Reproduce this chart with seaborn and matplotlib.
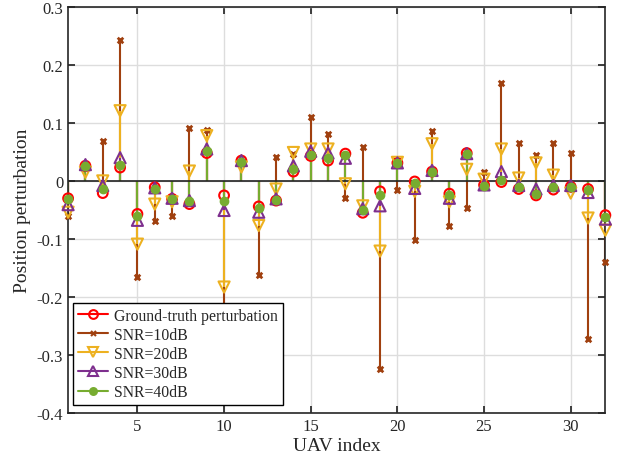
import numpy as np
import matplotlib
matplotlib.use("Agg")
import matplotlib.pyplot as plt
import seaborn as sns
from matplotlib.lines import Line2D
from matplotlib.legend_handler import HandlerLine2D

# Data (UAV 1..32)
uav = np.arange(1, 33)
ground_truth = [-0.030, 0.026, -0.021, 0.023, -0.057, -0.011, -0.031, -0.040,
                0.048, -0.025, 0.035, -0.044, -0.034, 0.016, 0.043, 0.035,
                0.047, -0.055, -0.018, 0.031, -0.001, 0.016, -0.022, 0.048,
                -0.007, -0.002, -0.014, -0.025, -0.015, -0.010, -0.014, -0.059]
snr10 = [-0.060, 0.022, 0.068, 0.243, -0.166, -0.070, -0.061, 0.092,
         0.087, -0.260, 0.030, -0.163, 0.041, 0.046, 0.111, 0.081,
         -0.029, 0.059, -0.325, -0.015, -0.102, 0.086, -0.077, -0.047,
         0.016, 0.169, 0.066, 0.045, 0.066, 0.048, -0.272, -0.139]
snr20 = [-0.054, 0.015, 0.000, 0.121, -0.109, -0.040, -0.036, 0.017,
         0.078, -0.183, 0.024, -0.077, -0.014, 0.049, 0.055, 0.055,
         -0.005, -0.043, -0.121, 0.032, -0.018, 0.064, -0.036, 0.020,
         0.003, 0.055, 0.005, 0.031, 0.010, -0.021, -0.064, -0.085]
snr30 = [-0.041, 0.028, -0.008, 0.040, -0.068, -0.012, -0.030, -0.034,
         0.055, -0.051, 0.035, -0.054, -0.031, 0.026, 0.051, 0.048,
         0.039, -0.048, -0.043, 0.031, -0.013, 0.018, -0.030, 0.047,
         -0.007, 0.016, -0.008, -0.014, -0.008, -0.008, -0.020, -0.066]
snr40 = [-0.031, 0.026, -0.014, 0.028, -0.061, -0.014, -0.032, -0.034,
         0.052, -0.034, 0.033, -0.047, -0.033, 0.021, 0.045, 0.039,
         0.045, -0.051, -0.025, 0.031, -0.004, 0.015, -0.024, 0.047,
         -0.008, 0.002, -0.011, -0.022, -0.011, -0.011, -0.016, -0.063]

labels = ["Ground-truth perturbation", "SNR=10dB", "SNR=20dB", "SNR=30dB", "SNR=40dB"]
series = [ground_truth, snr10, snr20, snr30, snr40]
colors = ["#FF0000", "#A0400F", "#EDB120", "#7E2F8E", "#77AC30"]
markers = ["o", "x", "v", "^", "o"]
msizes = [7, 4, 8, 8, 5.5]
filled = [False, True, False, False, True]


# legend marker sits at the right end of the line, like MATLAB
class RightMarker(HandlerLine2D):
    def get_xdata(self, legend, xdescent, ydescent, width, height, fontsize):
        xdata = np.array([-xdescent, -xdescent + width])
        return xdata, np.array([-xdescent + width - 3])


sns.set_theme(style="ticks")
plt.rcParams["font.family"] = ["Liberation Serif", "DejaVu Serif"]

fig, ax = plt.subplots(figsize=(6.19, 4.64), dpi=100)
fig.subplots_adjust(left=0.110, right=0.978, top=0.983, bottom=0.108)

handles = []
for vals, lab, c, m, ms, f in zip(series, labels, colors, markers, msizes, filled):
    ax.vlines(uav, 0, vals, color=c, lw=1.5, zorder=2)
    sns.scatterplot(x=uav, y=vals, ax=ax, marker=m, s=ms ** 2,
                    facecolor=c if f else "none", edgecolor=c,
                    linewidth=1.5 if m != "x" else 2, color=c, zorder=3,
                    legend=False, clip_on=False)
    handles.append(Line2D([0], [0], color=c, lw=1.5, marker=m, ms=ms * 0.9,
                          mfc=c if f else "none", mec=c, mew=1.5))

ax.axhline(0, color="#222222", lw=1.2, zorder=2.5)

ax.set_xlim(1, 32)
ax.set_ylim(-0.4, 0.3)
ax.set_xticks([5, 10, 15, 20, 25, 30])
yt = [-0.4, -0.3, -0.2, -0.1, 0, 0.1, 0.2, 0.3]
ax.set_yticks(yt)
ax.set_yticklabels(["-0.4", "-0.3", "-0.2", "-0.1", "0", "0.1", "0.2", "0.3"])
ax.grid(True, color="#DDDDDD", lw=1)
ax.set_axisbelow(True)
ax.tick_params(direction="in", top=True, right=True, labelsize=12, length=5,
               color="#262626")
for sp in ax.spines.values():
    sp.set_color("#262626")
    sp.set_linewidth(1.2)

ax.set_xlabel("UAV index", fontsize=14, labelpad=2)
ax.set_ylabel("Position perturbation", fontsize=14, labelpad=4)

leg = ax.legend(handles, labels, loc="lower left", fontsize=11.3, frameon=True,
                fancybox=False, edgecolor="black", framealpha=1,
                bbox_to_anchor=(0.01, 0.02), borderaxespad=0,
                handlelength=1.9, handletextpad=0.4, numpoints=1,
                labelspacing=0.2, borderpad=0.3,
                handler_map={Line2D: RightMarker()})
leg.get_frame().set_linewidth(1)
leg.set_zorder(10)

plt.savefig("out.png", dpi=100)
